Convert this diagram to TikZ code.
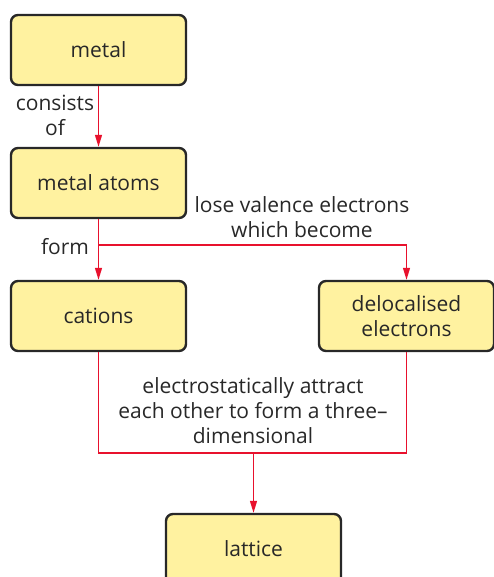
\documentclass[tikz,border=0pt]{standalone}
\usepackage{fontspec}
\setmainfont{Open Sans}
\usetikzlibrary{arrows.meta}
\definecolor{boxfill}{RGB}{255,242,160}
\definecolor{linkred}{RGB}{232,17,45}
\definecolor{inkgray}{RGB}{40,40,40}
\begin{document}
\begin{tikzpicture}[x=1pt,y=-1pt,
  box/.style={draw=inkgray,fill=boxfill,line width=2.4pt,rounded corners=7pt,minimum width=175pt,minimum height=70pt,align=center,font=\fontsize{21}{25}\selectfont,text=inkgray,inner sep=0pt},
  lbl/.style={align=center,font=\fontsize{21}{25}\selectfont,text=inkgray,inner sep=0pt},
  link/.style={draw=linkred,line width=1.3pt},
  arr/.style={link,-{Triangle[length=12pt,width=7pt]}}]
\useasboundingbox (0,0) rectangle (493,577);
\node[box] (metal) at (98.5,50) {metal};
\node[box] (atoms) at (98.5,183) {metal atoms};
\node[box] (cat) at (98.5,316) {cations};
\node[box] (deloc) at (406.5,316) {delocalised\\electrons};
\node[box] (lat) at (253.5,549) {lattice};
\coordinate (jf) at (98.5,245);
\coordinate (jb) at (253.5,453);
\node[lbl] (lconsists) at (55,115.5) {consists\\of};
\node[lbl] (lform) at (65,247) {form};
\node[lbl] (llose) at (302,217.5) {lose valence electrons\\which become};
\node[lbl] (lattract) at (253,411) {electrostatically attract\\each other to form a three–\\dimensional};
\draw[arr] (metal) -- (atoms);
\draw[link] (atoms) -- (jf);
\draw[arr] (jf) -- (cat);
\draw[arr] (jf) -| (deloc);
\draw[link] (cat) |- (jb) -| (deloc);
\draw[arr] (jb) -- (lat);
\end{tikzpicture}
\end{document}
